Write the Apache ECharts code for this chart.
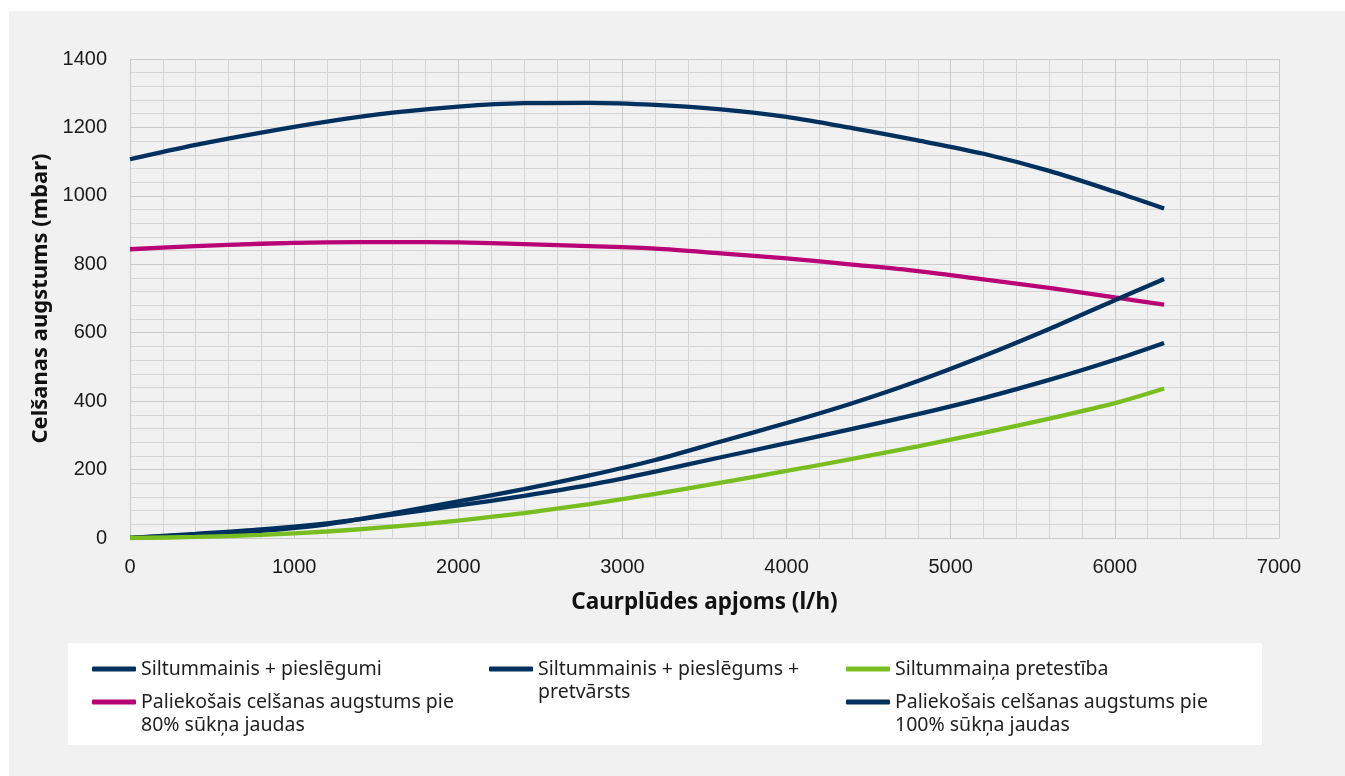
<!DOCTYPE html>
<html>
<head>
<meta charset="utf-8">
<script src="https://cdn.jsdelivr.net/npm/echarts@6/dist/echarts.min.js"></script>
<style>
html,body{margin:0;padding:0;background:#ffffff;width:1345px;height:776px;overflow:hidden;}
#chart{position:absolute;left:9px;top:11px;width:1336px;height:765px;}
</style>
</head>
<body>
<div id="chart"></div>
<script>
// Flow values (l/h)
const flow = [0, 400, 800, 1200, 1600, 2000, 2400, 2800, 3200, 3600, 4000, 4400, 4800, 5200, 5600, 6000, 6300];
// Head values (mbar)
const head100 = [1107, 1149, 1185, 1217, 1243, 1261, 1271, 1272, 1266, 1253, 1231, 1198, 1162, 1123, 1073, 1012, 963];
const head80 = [844, 853, 860, 864, 865, 864, 859, 853, 846, 832, 817, 799, 780, 756, 731, 703, 682];
const hxConnValve = [0, 10, 21, 40, 72, 107, 143, 183, 228, 282, 336, 394, 459, 532, 611, 695, 757];
const hxConn = [0, 12, 25, 43, 68, 95, 123, 155, 194, 236, 277, 319, 362, 409, 462, 521, 570];
const hxResist = [0, 3, 9, 19, 33, 51, 73, 99, 129, 162, 196, 231, 268, 307, 349, 394, 437];
// Axis tick labels
const xTicks = [0, 1000, 2000, 3000, 4000, 5000, 6000, 7000];
const yTicks = [0, 200, 400, 600, 800, 1000, 1200, 1400];

const names = {
  conn: 'Siltummainis + pieslēgumi',
  valve: 'Siltummainis + pieslēgums + pretvārsts',
  resist: 'Siltummaiņa pretestība',
  p80: 'Paliekošais celšanas augstums pie 80% sūkņa jaudas',
  p100: 'Paliekošais celšanas augstums pie 100% sūkņa jaudas'
};
const legendLines = {};
legendLines[names.conn] = ['Siltummainis + pieslēgumi'];
legendLines[names.valve] = ['Siltummainis + pieslēgums +', 'pretvārsts'];
legendLines[names.resist] = ['Siltummaiņa pretestība'];
legendLines[names.p80] = ['Paliekošais celšanas augstums pie', '80% sūkņa jaudas'];
legendLines[names.p100] = ['Paliekošais celšanas augstums pie', '100% sūkņa jaudas'];

const NAVY = '#00305e', MAGENTA = '#b90276', GREEN = '#78be20';
const GRID = '#cacaca', MINOR = '#d4d4d4';

function pairs(xs, ys){ return xs.map((x,i)=>[x, ys[i]]); }

const LH = 23;
function legendAt(name, left, centerY){
  const lines = legendLines[name];
  const twoLine = lines.length > 1;
  return {
    show: true,
    orient: 'vertical',
    left: left,
    top: twoLine ? centerY - LH * 1.5 : centerY - LH / 2,
    padding: 0,
    itemWidth: 44,
    itemHeight: 5,
    itemGap: 0,
    icon: 'roundRect',
    selectedMode: false,
    // a blank first line keeps the icon level with the first text line
    formatter: function(n){ return twoLine ? '\u00a0\n' + lines.join('\n') : lines[0]; },
    textStyle: {fontFamily: 'Noto Sans', fontSize: 19.5, color: '#1f1f1f', lineHeight: LH},
    data: [{name: name}]
  };
}

function lineSeries(name, ys, color, z){
  return {
    name: name, type: 'line', data: pairs(flow, ys), smooth: 0.3,
    symbol: 'none', z: z,
    lineStyle: {color: color, width: 4.3},
    itemStyle: {color: color}
  };
}

const chart = echarts.init(document.getElementById('chart'));
chart.setOption({
  backgroundColor: '#f1f1f1',
  animation: false,
  grid: {left: 121, top: 48, right: 66, bottom: 238, containLabel: false},
  graphic: [{
    type: 'rect', left: 59, top: 632, z: -1,
    shape: {width: 1194, height: 102},
    style: {fill: '#ffffff'}
  }],
  legend: [
    legendAt(names.conn, 83, 658),
    legendAt(names.p80, 83, 691),
    legendAt(names.valve, 480, 658),
    legendAt(names.resist, 837, 658),
    legendAt(names.p100, 837, 691)
  ],
  xAxis: {
    type: 'value', min: xTicks[0], max: xTicks[xTicks.length-1], interval: xTicks[1]-xTicks[0],
    name: 'Caurplūdes apjoms (l/h)', nameLocation: 'middle', nameGap: 53,
    nameTextStyle: {fontFamily: 'Noto Sans', fontSize: 22.5, fontWeight: 'bold', color: '#111'},
    axisLine: {show: true, lineStyle: {color: GRID, width: 1}},
    axisTick: {show: false},
    axisLabel: {fontFamily: 'Liberation Sans', fontSize: 20, color: '#1a1a1a', margin: 19,
      formatter: function(v){ return String(v); }},
    splitLine: {show: true, lineStyle: {color: GRID, width: 1}},
    minorTick: {show: false, splitNumber: 5},
    minorSplitLine: {show: true, lineStyle: {color: MINOR, width: 1}}
  },
  yAxis: {
    type: 'value', min: yTicks[0], max: yTicks[yTicks.length-1], interval: yTicks[1]-yTicks[0],
    name: 'Celšanas augstums (mbar)', nameLocation: 'middle', nameGap: 70,
    nameTextStyle: {fontFamily: 'Noto Sans', fontSize: 22, fontWeight: 'bold', color: '#111'},
    axisLine: {show: true, lineStyle: {color: GRID, width: 1}},
    axisTick: {show: false},
    axisLabel: {fontFamily: 'Liberation Sans', fontSize: 20, color: '#1a1a1a', margin: 23,
      formatter: function(v){ return String(v); }},
    splitLine: {show: true, lineStyle: {color: GRID, width: 1}},
    minorTick: {show: false, splitNumber: 5},
    minorSplitLine: {show: true, lineStyle: {color: MINOR, width: 1}}
  },
  series: [
    lineSeries(names.p100, head100, NAVY, 2),
    lineSeries(names.p80, head80, MAGENTA, 2),
    lineSeries(names.valve, hxConnValve, NAVY, 3),
    lineSeries(names.conn, hxConn, NAVY, 3),
    lineSeries(names.resist, hxResist, GREEN, 4)
  ]
});
</script>
</body>
</html>
